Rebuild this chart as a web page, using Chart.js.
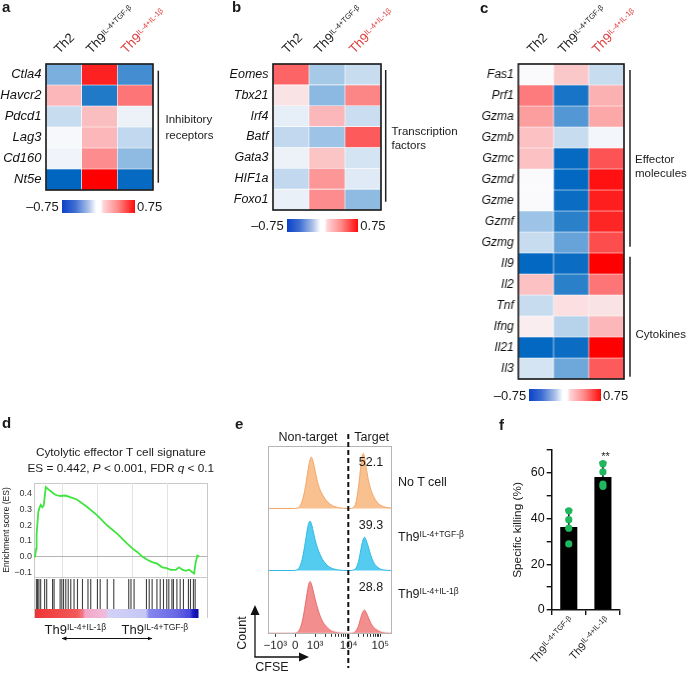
<!DOCTYPE html>
<html><head><meta charset="utf-8">
<script src="https://cdn.jsdelivr.net/npm/chart.js@4.4.1/dist/chart.umd.min.js"></script>
<style>
html,body{margin:0;padding:0;background:#fff;}
#root{position:relative;width:688px;height:673px;overflow:hidden;font-family:'Liberation Sans',Arial,Helvetica,sans-serif;color:#1a1a1a;background:#fff;}
.t{position:absolute;white-space:nowrap;line-height:1;}
.t sup{position:relative;top:-0.5em;vertical-align:baseline;line-height:0;}
canvas{position:absolute;display:block;}
.box{position:absolute;box-sizing:border-box;}
</style></head><body><div id="root"></div>
<script>
// ---------------- DATA ----------------
const heatCols = ['Th2', 'Th9 IL-4+TGF-β', 'Th9 IL-4+IL-1β'];
const genesA = ['Ctla4','Havcr2','Pdcd1','Lag3','Cd160','Nt5e'];
const valuesA = [
  [-0.38, 0.65, -0.55],
  [0.20, -0.65, 0.40],
  [-0.15, 0.18, -0.04],
  [-0.01, 0.20, -0.17],
  [-0.03, 0.33, -0.32],
  [-0.75, 0.75, -0.73]
];
const genesB = ['Eomes','Tbx21','Irf4','Batf','Gata3','HIF1a','Foxo1'];
const valuesB = [
  [0.45, -0.25, -0.15],
  [0.07, -0.33, 0.35],
  [-0.06, 0.20, -0.14],
  [-0.17, -0.28, 0.48],
  [-0.04, 0.16, -0.11],
  [-0.17, 0.30, -0.08],
  [-0.05, 0.33, -0.32]
];
const genesC = ['Fas1','Prf1','Gzma','Gzmb','Gzmc','Gzmd','Gzme','Gzmf','Gzmg','Il9','Il2','Tnf','Ifng','Il21','Il3'];
const valuesC = [
  [0.00, 0.15, -0.15],
  [0.38, -0.68, 0.22],
  [0.28, -0.50, 0.25],
  [0.17, -0.15, -0.02],
  [0.17, -0.73, 0.50],
  [0.00, -0.74, 0.70],
  [0.00, -0.72, 0.66],
  [-0.28, -0.62, 0.64],
  [-0.15, -0.44, 0.52],
  [-0.74, -0.72, 0.75],
  [0.17, -0.62, 0.40],
  [-0.15, 0.08, 0.07],
  [0.04, -0.20, 0.20],
  [-0.74, -0.72, 0.75],
  [-0.11, -0.42, 0.48]
];
const heatMax = 0.75;

// GSEA running enrichment score (x = rank position in %, y = ES)
const esX = [0, 0.6, 1.2, 1.5, 2.5, 3.1, 3.9, 4.8, 5.6, 6.8, 9.3, 12.2, 15.1, 18.0, 20.8, 24.7, 30.5, 36.3, 42.1, 47.9, 53.7, 57.5, 59.5, 62.4, 65.3, 68.1, 71.0, 73.9, 75.9, 78.8, 81.7, 83.6, 85.5, 87.5, 89.4, 91.3, 92.3, 93.2, 94.2, 95.2];
const esY = [0, 0.0, 0.05, 0.145, 0.284, 0.31, 0.33, 0.315, 0.325, 0.444, 0.42, 0.395, 0.387, 0.39, 0.38, 0.365, 0.318, 0.265, 0.2, 0.147, 0.083, 0.045, 0.03, 0.0, -0.02, -0.035, -0.045, -0.068, -0.072, -0.085, -0.085, -0.068, -0.083, -0.09, -0.083, -0.1, -0.107, -0.035, 0.006, 0.0];
const hitPos = [0.8, 1.5, 2.3, 3.3, 5.6, 6.8, 10.2, 11.1, 14.6, 15.6, 16.6, 17.9, 19.3, 20.8, 22.7, 24.7, 27.6, 30.8, 32.4, 36.3, 37.9, 42.0, 45.8, 54.5, 55.8, 57.6, 64.8, 66.4, 68.1, 70.9, 72.8, 74.7, 76.6, 77.8, 79.6, 80.5, 82.5, 84.4, 86.3, 89.2, 90.4, 92.1, 93.1];
const esTicks = [-0.1, 0, 0.1, 0.2, 0.3, 0.4];
const esGrid = [16.2, 36.5, 56.8, 77.1];

// Flow histograms (x = display position on CFSE axis, y = relative count)
const eX    = [0,20,24,26,28,30,32,33,34,35,36,38,40,42,44,47,50,54,58,64,67,69,71,73,75,76,77,78,79,81,83,85,88,91,95,100];
const eNoT  = [0,0,0.01,0.05,0.15,0.33,0.58,0.70,0.79,0.82,0.78,0.60,0.42,0.30,0.22,0.13,0.07,0.03,0.01,0,0,0.02,0.10,0.35,0.70,0.85,0.88,0.80,0.68,0.45,0.30,0.20,0.10,0.05,0.02,0.005];
const eTGF  = [0,0,0.02,0.08,0.22,0.45,0.70,0.78,0.80,0.76,0.68,0.50,0.36,0.26,0.18,0.10,0.05,0.02,0.005,0,0,0.01,0.04,0.15,0.35,0.45,0.52,0.54,0.50,0.38,0.24,0.14,0.06,0.02,0.005,0];
const eIL1  = [0,0,0.02,0.08,0.22,0.45,0.70,0.80,0.83,0.79,0.72,0.55,0.40,0.28,0.19,0.11,0.05,0.02,0.005,0,0,0.01,0.04,0.12,0.26,0.32,0.36,0.37,0.34,0.25,0.16,0.10,0.05,0.02,0.005,0];
const eTargetPct = ['52.1', '39.3', '28.8'];
const eTickVals = [5.9, 22, 38, 65, 90.6];
const eTickText = ['−10³', '0', '10³', '10⁴', '10⁵'];
const eMinorTicks = [46.1, 50.9, 54.3, 56.9, 59.0, 60.8, 62.4, 63.8, 72.7, 77.2, 80.4, 82.9, 84.9, 86.6, 88.1, 89.4];

// Specific killing
const fGroups = ['Th9 IL-4+TGF-β', 'Th9 IL-4+IL-1β'];
const fMeans = [36.3, 58.2];
const fErr = [7.4, 6.3];
const fDotsTGF = [43.4, 39.5, 35.8, 28.9];
const fDotsIL1 = [64.0, 60.4, 55.1, 54.1];
const fTicks = [0, 10, 20, 30, 40, 50, 60, 70];

// ---------------- SETUP ----------------
const FONT = "'Liberation Sans', Arial, Helvetica, sans-serif";
Chart.defaults.font.family = FONT;
Chart.defaults.color = '#1a1a1a';
Chart.defaults.animation = false;
Chart.defaults.plugins.legend.display = false;
Chart.defaults.plugins.tooltip.enabled = false;
const root = document.getElementById('root');

function T(html, x, y, o = {}) {
  const d = document.createElement('div');
  d.className = 't';
  d.innerHTML = html;
  d.style.left = x + 'px';
  d.style.top = y + 'px';
  d.style.fontSize = (o.size || 12) + 'px';
  if (o.color) d.style.color = o.color;
  if (o.bold) d.style.fontWeight = 'bold';
  if (o.italic) d.style.fontStyle = 'italic';
  const ax = o.anchor || 'l';
  const tx = ax === 'l' ? '0' : ax === 'c' ? '-50%' : '-100%';
  const ox = ax === 'l' ? '0' : ax === 'c' ? '50%' : '100%';
  d.style.transformOrigin = ox + ' 50%';
  d.style.transform = `translate(${tx},-50%)` + (o.rot ? ` rotate(${o.rot}deg)` : '');
  d.style.zIndex = 10;
  root.appendChild(d);
  return d;
}
function mkCanvas(left, top, w, h) {
  const c = document.createElement('canvas');
  c.width = w; c.height = h;
  c.style.left = left + 'px'; c.style.top = top + 'px';
  c.style.width = w + 'px'; c.style.height = h + 'px';
  root.appendChild(c);
  return c;
}
function box(left, top, w, h, css) {
  const d = document.createElement('div');
  d.className = 'box';
  d.style.left = left + 'px'; d.style.top = top + 'px';
  d.style.width = w + 'px'; d.style.height = h + 'px';
  Object.assign(d.style, css || {});
  root.appendChild(d);
  return d;
}
const svgNS = 'http://www.w3.org/2000/svg';
const svg = document.createElementNS(svgNS, 'svg');
svg.setAttribute('width', 688); svg.setAttribute('height', 673);
svg.style.position = 'absolute'; svg.style.left = '0'; svg.style.top = '0'; svg.style.zIndex = 8;
function sv(tag, attrs) {
  const e = document.createElementNS(svgNS, tag);
  for (const k in attrs) e.setAttribute(k, attrs[k]);
  svg.appendChild(e); return e;
}

function heatColor(v) {
  const t = Math.min(1, Math.abs(v) / heatMax);
  const base = [250, 250, 252];
  const end = v < 0 ? [0, 102, 192] : [255, 0, 0];
  const c = base.map((b, i) => Math.round(b + (end[i] - b) * t));
  return `rgb(${c[0]},${c[1]},${c[2]})`;
}
const outline = {
  id: 'outline',
  afterDraw(chart) {
    const a = chart.chartArea, ctx = chart.ctx;
    ctx.save(); ctx.strokeStyle = '#151515'; ctx.lineWidth = 1.6;
    ctx.strokeRect(a.left, a.top, a.right - a.left, a.bottom - a.top);
    ctx.restore();
  }
};

function makeHeat(genes, values, bx, labelSize) {
  const labelW = 60, padT = 10;
  const c = mkCanvas(bx.left - labelW, bx.top - padT, labelW + bx.width + 2, bx.height + 2 * padT);
  new Chart(c, {
    type: 'bar',
    data: {
      labels: heatCols,
      datasets: genes.map((g, r) => ({
        label: g,
        data: heatCols.map(() => 1),
        backgroundColor: values[r].map(heatColor),
        borderColor: 'rgba(255,255,255,0.8)',
        borderWidth: 0.6,
        borderSkipped: false,
        barPercentage: 1,
        categoryPercentage: 1
      }))
    },
    options: {
      responsive: false, events: [],
      layout: { padding: { top: padT, bottom: padT, left: 0, right: 2 } },
      scales: {
        x: { display: false, stacked: true },
        y: {
          stacked: true, min: 0, max: genes.length, reverse: true,
          border: { display: false }, grid: { display: false, drawTicks: false },
          afterFit: s => { s.width = labelW; s.paddingTop = 0; s.paddingBottom = 0; },
          afterBuildTicks: s => { s.ticks = genes.map((g, i) => ({ value: i + 0.5 })); },
          ticks: { padding: 4.5, autoSkip: false, color: '#111', font: { size: labelSize, style: 'italic' }, callback: (v, i) => genes[i] }
        }
      }
    },
    plugins: [outline]
  });
  const cw = bx.width / 3;
  const offs = [-7, -11, -12];
  heatCols.forEach((h, i) => {
    const cx = bx.left + (i + 0.5) * cw + offs[i];
    let html = i === 0 ? 'Th2' : (i === 1 ? 'Th9<sup style="font-size:7.5px">IL-4+TGF-β</sup>' : 'Th9<sup style="font-size:7.5px">IL-4+IL-1β</sup>');
    T(html, cx, 51, { size: 13, rot: -45, color: i === 2 ? '#e23a3a' : '#1a1a1a' });
  });
}
function colorbar(x0, x1, y0, y1) {
  box(x0, y0, x1 - x0, y1 - y0, { background: 'linear-gradient(to right, #0c42c8 0%, #3f6fd2 18%, #a9bfe8 36%, #ffffff 47%, #ffffff 53%, #ffd2d6 57%, #ff8c8c 76%, #ff0a0a 100%)' });
  const yc = (y0 + y1) / 2;
  T('–0.75', x0 - 3, yc, { size: 13, anchor: 'r' });
  T('0.75', x1 + 2, yc, { size: 13 });
}

// ---------------- PANEL a/b/c ----------------
T('a', 2, 6, { size: 15, bold: true });
T('b', 232, 6, { size: 15, bold: true });
T('c', 480, 7, { size: 15, bold: true });

const bxA = { left: 45.5, top: 63.5, width: 107, height: 126.5 };
const bxB = { left: 273, top: 63.5, width: 108, height: 146.5 };
const bxC = { left: 518, top: 63.5, width: 105.5, height: 315.5 };
makeHeat(genesA, valuesA, bxA, 13);
makeHeat(genesB, valuesB, bxB, 12.5);
makeHeat(genesC, valuesC, bxC, 12);
colorbar(61.7, 135, 199.5, 212.5);
colorbar(286.7, 358.3, 218.5, 231.5);
colorbar(529.3, 601, 389, 401);

sv('line', { x1: 158.3, y1: 70.7, x2: 158.3, y2: 182.7, stroke: '#222', 'stroke-width': 1.5 });
T('Inhibitory', 165.5, 120, { size: 11.5 });
T('receptors', 165.5, 135.5, { size: 11.5 });
sv('line', { x1: 385.7, y1: 70, x2: 385.7, y2: 201.7, stroke: '#222', 'stroke-width': 1.5 });
T('Transcription', 391.5, 131.5, { size: 11.5 });
T('factors', 391.5, 146, { size: 11.5 });
sv('line', { x1: 630, y1: 70, x2: 630, y2: 246.7, stroke: '#222', 'stroke-width': 1.5 });
sv('line', { x1: 630, y1: 256.7, x2: 630, y2: 376.7, stroke: '#222', 'stroke-width': 1.5 });
T('Effector', 635, 160, { size: 11.5 });
T('molecules', 635, 174, { size: 11.5 });
T('Cytokines', 635.5, 335, { size: 11.5 });

// ---------------- PANEL d ----------------
T('d', 2, 422, { size: 15, bold: true });
T('Cytolytic effector T cell signature', 120.8, 453, { size: 11.8, anchor: 'c' });
T('ES = 0.442, <i>P</i> &lt; 0.001, FDR <i>q</i> &lt; 0.1', 120.8, 469, { size: 11.8, anchor: 'c' });
box(34, 483, 173.5, 135, { border: '1px solid #c9c9c9' });
box(34, 577, 173.5, 1, { background: '#c9c9c9' });
box(35, 608.8, 171.5, 8.8, { background: 'linear-gradient(to right, #ee3434 0px, #f35a5a 42px, #f07a8a 48px, #f2a6c6 50px, #f2bcdc 71px, #d2d2f8 73px, #c6c6f4 111px, #8686ee 114px, #6a6ae6 140px, #4848dc 155px, #1c1cc0 158px, #0a0aa8 163px, #ffffff 164px)' });

const cD = mkCanvas(0, 475, 208, 108);
new Chart(cD, {
  type: 'line',
  data: { datasets: [{ data: esX.map((x, i) => ({ x, y: esY[i] })), borderColor: '#3fe43f', borderWidth: 1.8, pointRadius: 0, tension: 0 }] },
  options: {
    responsive: false, events: [],
    layout: { padding: { top: 8, bottom: 6, left: 0, right: 0.5 } },
    scales: {
      x: {
        type: 'linear', min: 0, max: 100,
        afterBuildTicks: s => { s.ticks = esGrid.map(v => ({ value: v })); },
        ticks: { display: false }, grid: { color: '#e3e3e3', drawTicks: false }, border: { display: false },
        afterFit: s => { s.height = 0; s.paddingLeft = 0; s.paddingRight = 0; }
      },
      y: {
        min: -0.13, max: 0.47,
        afterBuildTicks: s => { s.ticks = esTicks.map(v => ({ value: v })); },
        afterFit: s => { s.width = 34; s.paddingTop = 0; s.paddingBottom = 0; },
        ticks: { font: { size: 9 }, padding: 2, color: '#333', callback: v => v.toFixed(1).replace('-', '−') },
        grid: { drawTicks: false, color: ctx => (ctx.tick && Math.abs(ctx.tick.value) < 1e-9) ? '#b4b4b4' : 'rgba(0,0,0,0)' },
        border: { display: false },
        title: { display: true, text: 'Enrichment score (ES)', font: { size: 8.5 }, color: '#222', padding: { top: 1.5, bottom: 0 } }
      }
    }
  }
});
// gene-set hits: one vertical segment per hit position (gaps between segments)
const hitSegs = [];
hitPos.forEach(x => { hitSegs.push({ x, y: 0 }, { x, y: 1 }, { x, y: null }); });
const cHits = mkCanvas(34.5, 578.5, 172.5, 30);
new Chart(cHits, {
  type: 'line',
  data: { datasets: [{ data: hitSegs, borderColor: 'rgba(30,30,30,0.85)', borderWidth: 1.1, pointRadius: 0, spanGaps: false, tension: 0 }] },
  options: {
    responsive: false, events: [], layout: { padding: 0 },
    scales: { x: { type: 'linear', min: 0, max: 100, display: false }, y: { min: 0, max: 1, display: false } }
  }
});
T('Th9<sup style="font-size:8.5px">IL-4+IL-1β</sup>', 44.5, 629, { size: 13 });
T('Th9<sup style="font-size:8.5px">IL-4+TGF-β</sup>', 121.5, 629, { size: 13 });
const mk = sv('defs', {});
mk.innerHTML = '<marker id="ah" viewBox="0 0 10 10" refX="9" refY="5" markerWidth="5" markerHeight="5" orient="auto-start-reverse"><path d="M0,1 L10,5 L0,9 z" fill="#111"/></marker>';
sv('line', { x1: 62, y1: 638.5, x2: 152, y2: 638.5, stroke: '#111', 'stroke-width': 1, 'marker-start': 'url(#ah)', 'marker-end': 'url(#ah)' });

// ---------------- PANEL e ----------------
T('e', 235, 423, { size: 15, bold: true });
T('Non-target', 308, 437, { size: 12.5, anchor: 'c' });
T('Target', 371.7, 437, { size: 12.5, anchor: 'c' });
const eRows = [eNoT, eTGF, eIL1];
const eFill = ['rgba(249,192,144,1)', 'rgba(84,204,240,1)', 'rgba(243,142,142,1)'];
const eLine = ['#f3a566', '#2fb9e6', '#e86a6a'];
const eTop = 446, eH = 62.5, eLeft = 267.7, eW = 124;
eRows.forEach((row, k) => {
  const last = k === eRows.length - 1;
  const side = last ? 14 : 0;
  const c = mkCanvas(eLeft - side, eTop + k * eH, eW + 2 * side, eH + (last ? 24 : 0));
  new Chart(c, {
    type: 'line',
    data: { datasets: [{ data: eX.map((x, i) => ({ x, y: row[i] })), fill: 'origin', backgroundColor: eFill[k], borderColor: eLine[k], borderWidth: 1, pointRadius: 0, cubicInterpolationMode: 'monotone' }] },
    options: {
      responsive: false, events: [], layout: { padding: { left: side, right: side, top: 0, bottom: 0 } },
      scales: {
        x: last ? {
          type: 'linear', min: 0, max: 100,
          afterBuildTicks: s => { s.ticks = eTickVals.concat(eMinorTicks).sort((a, b) => a - b).map(v => ({ value: v })); },
          afterFit: s => { s.height = 24; s.paddingLeft = 0; s.paddingRight = 0; },
          ticks: { autoSkip: false, maxRotation: 0, padding: 2, font: { size: 11.5 }, color: '#222', callback: v => { const j = eTickVals.indexOf(v); return j >= 0 ? eTickText[j] : ''; } },
          grid: { drawOnChartArea: false, tickLength: 3, color: '#333' },
          border: { display: false }
        } : { type: 'linear', min: 0, max: 100, display: false },
        y: { min: -0.008, max: 1, display: false }
      }
    }
  });
  T(eTargetPct[k], 371, eTop + k * eH + 16, { size: 12.5, anchor: 'c' });
});
box(eLeft, eTop, eW, 3 * eH, { border: '1px solid #b5b5b5' });
T('No T cell', 398, 481.7, { size: 12.5 });
T('Th9<sup style="font-size:8.5px">IL-4+TGF-β</sup>', 398, 537, { size: 12.5 });
T('Th9<sup style="font-size:8.5px">IL-4+IL-1β</sup>', 398, 594, { size: 12.5 });
sv('line', { x1: 348.3, y1: 434, x2: 348.3, y2: 668, stroke: '#111', 'stroke-width': 2, 'stroke-dasharray': '5 3' });
sv('line', { x1: 255, y1: 657, x2: 255, y2: 614, stroke: '#111', 'stroke-width': 1.3 });
sv('path', { d: 'M255,605 L250.5,615 L259.5,615 Z', fill: '#111' });
sv('line', { x1: 254.4, y1: 657, x2: 300, y2: 657, stroke: '#111', 'stroke-width': 1.3 });
sv('path', { d: 'M309,657 L299,652.5 L299,661.5 Z', fill: '#111' });
T('Count', 241.5, 633, { size: 12.5, anchor: 'c', rot: -90 });
T('CFSE', 272, 667, { size: 12.5, anchor: 'c' });

// ---------------- PANEL f ----------------
T('f', 499, 424, { size: 15, bold: true });
const errBars = {
  id: 'errBars',
  afterDatasetDraw(chart, args) {
    if (args.meta.type !== 'bar') return;
    const ys = chart.scales.y, ctx = chart.ctx;
    ctx.save(); ctx.strokeStyle = '#111'; ctx.lineWidth = 1.5;
    args.meta.data.forEach((b, i) => {
      const y0 = ys.getPixelForValue(fMeans[i]), y1 = ys.getPixelForValue(fMeans[i] + fErr[i]);
      ctx.beginPath(); ctx.moveTo(b.x, y0); ctx.lineTo(b.x, y1);
      ctx.moveTo(b.x - 3.5, y1); ctx.lineTo(b.x + 3.5, y1); ctx.stroke();
    });
    ctx.restore();
  }
};
const cF = mkCanvas(500, 440, 124, 176);
new Chart(cF, {
  type: 'bar',
  data: {
    labels: fGroups,
    datasets: [
      { type: 'bar', data: fMeans, backgroundColor: '#000', barPercentage: 0.5, categoryPercentage: 1, order: 1 },
      { type: 'line', showLine: false, order: 0, pointRadius: 3.6, pointBackgroundColor: '#1fb85e', pointBorderWidth: 0,
        data: fDotsTGF.map(y => ({ x: fGroups[0], y })).concat(fDotsIL1.map(y => ({ x: fGroups[1], y }))) }
    ]
  },
  options: {
    responsive: false, events: [],
    layout: { padding: { top: 10, bottom: 0, left: 0, right: 0 } },
    scales: {
      x: {
        grid: { drawOnChartArea: false, offset: true, tickLength: 5, color: '#111', lineWidth: 1.4 },
        ticks: { display: false },
        border: { color: '#111', width: 1.5 },
        afterFit: s => { s.height = 6; s.paddingLeft = 0; s.paddingRight = 0; }
      },
      y: {
        min: 0, max: 70,
        afterBuildTicks: s => { s.ticks = fTicks.map(v => ({ value: v })); },
        afterFit: s => { s.width = 51.7; s.paddingTop = 0; s.paddingBottom = 0; },
        ticks: { font: { size: 12.5 }, padding: 2, color: '#111', callback: v => (v % 20 === 0 ? String(v) : '') },
        grid: { drawOnChartArea: false, tickLength: 5, color: '#111', lineWidth: 1.4 },
        border: { color: '#111', width: 1.5 },
        title: { display: true, text: 'Specific killing (%)', font: { size: 11.8 }, color: '#111', padding: { top: 11, bottom: 0 } }
      }
    }
  },
  plugins: [errBars]
});
T('**', 605.5, 456, { size: 11, anchor: 'c' });
T('Th9<sup style="font-size:7.5px">IL-4+TGF-β</sup>', 572, 619, { size: 11, anchor: 'r', rot: -47 });
T('Th9<sup style="font-size:7.5px">IL-4+IL-1β</sup>', 607.5, 619, { size: 11, anchor: 'r', rot: -47 });

root.appendChild(svg);
</script>
</body></html>
